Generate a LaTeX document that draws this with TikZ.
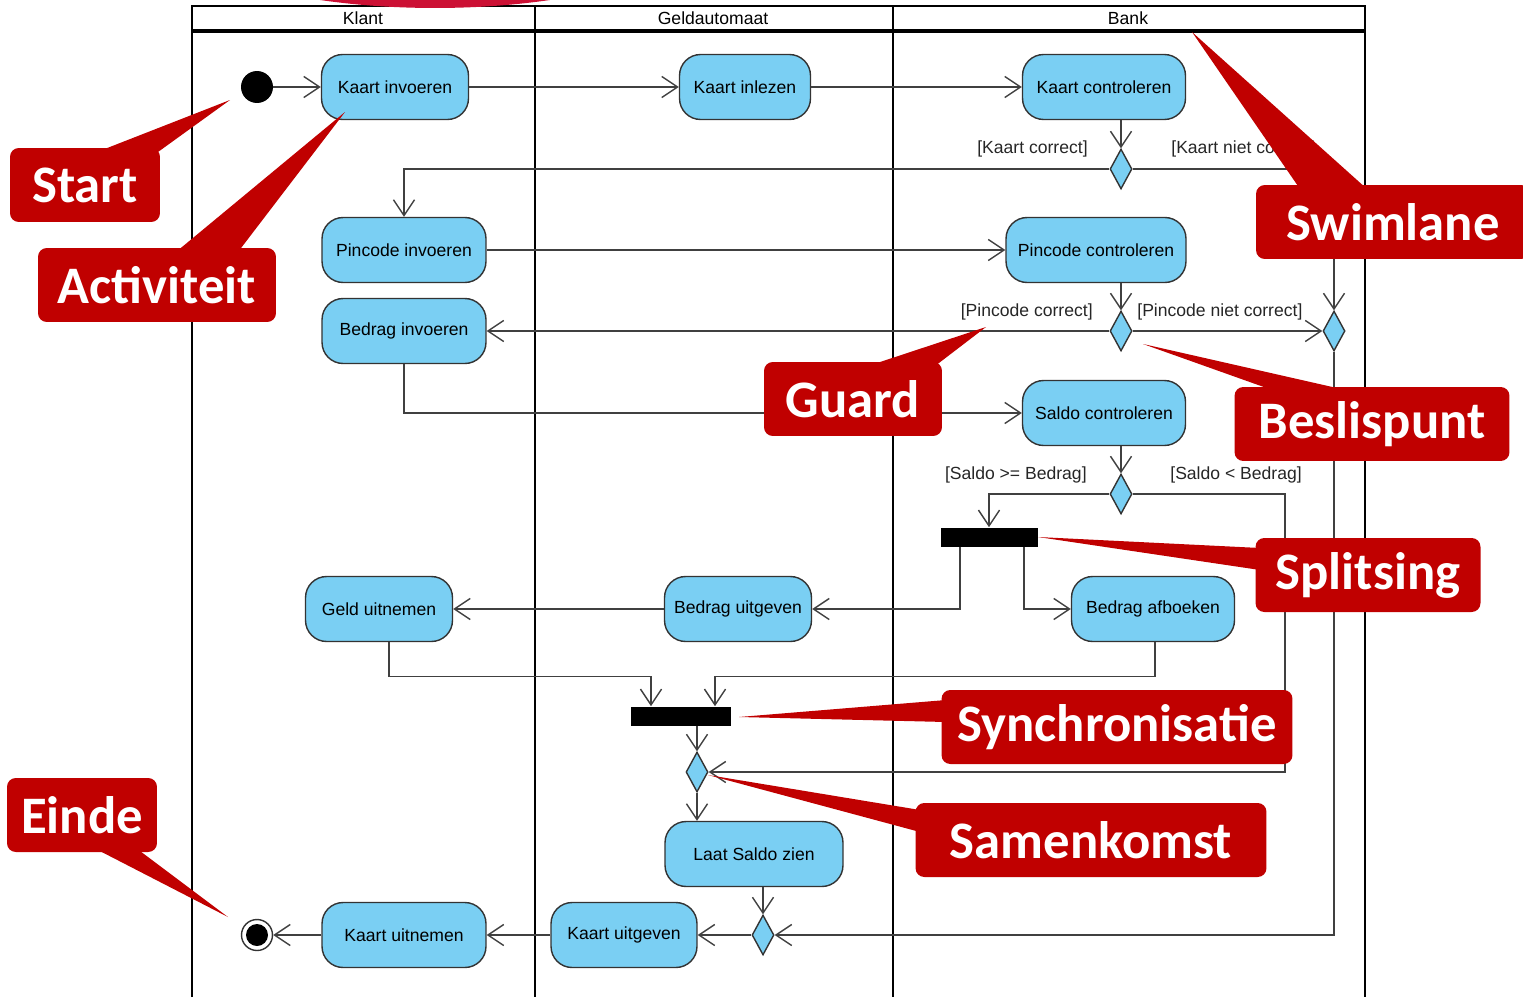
\documentclass[tikz,border=0pt]{standalone}
\usepackage{fontspec}
\setmainfont{Liberation Sans}
\newfontfamily\calloutfont{Carlito}
\usepackage[dvipsnames]{xcolor}
\usetikzlibrary{calc}
\usetikzlibrary{positioning}
\usetikzlibrary{shapes.geometric}
\usetikzlibrary{arrows.meta}
\definecolor{actblue}{RGB}{122,207,243}
\definecolor{calloutred}{RGB}{192,0,0}
\definecolor{topred}{RGB}{204,16,52}
\definecolor{lijn}{RGB}{64,64,64}

\begin{document}
\begin{tikzpicture}[x=0.02cm, y=-0.02cm, font=\fontsize{10}{12}\selectfont,
  activity/.style={draw=black!80, fill=actblue, line width=0.8pt, rounded corners=12pt, minimum width=#1, minimum height=1.3cm, inner sep=2pt},
  decision/.style={diamond, draw=black!80, fill=actblue, line width=0.8pt, minimum width=0.44cm, minimum height=0.8cm, inner sep=0pt},
  bar/.style={fill=black, minimum width=#1, minimum height=0.38cm, inner sep=0pt},
  initial/.style={circle, fill=black, minimum size=0.64cm, inner sep=0pt},
  final/.style={circle, draw=black!80, fill=white, line width=0.8pt, minimum size=0.62cm, inner sep=0pt, path picture={\fill[black] (path picture bounding box.center) circle (0.22cm);}},
  flow/.style={draw=lijn, line width=0.8pt, -{Straight Barb[length=9pt, width=12pt]}},
  lane/.style={draw=black, line width=1.3pt},
  guard/.style={inner sep=0pt, text=black!85},
  callout/.style={fill=calloutred, rounded corners=5pt, text=white, font=\calloutfont\bfseries\fontsize{30}{36}\selectfont, minimum width=#1, minimum height=1.48cm, inner sep=0pt}]
\useasboundingbox (0,0) rectangle (1523,997);

\draw[lane] (192,997) -- (192,6) -- (1365,6) -- (1365,997);
\draw[lane, line width=1.8pt] (192,31) -- (1365,31);
\draw[lane] (535,6) -- (535,997);
\draw[lane] (893,6) -- (893,997);
\node (hklant) at (363,18) {Klant};
\node (hgeld) at (713,18) {Geldautomaat};
\node (hbank) at (1128,18) {Bank};
\fill[topred] (435,-97) ellipse [x radius=6cm, y radius=2.1cm];

\node[initial] (start) at (257,87) {};
\node[activity=2.94cm] (kinv) at (395,87) {Kaart invoeren};
\node[activity=2.62cm] (kinl) at (745,87) {Kaart inlezen};
\node[activity=3.26cm] (kcon) at (1104,87) {Kaart controleren};
\node[decision] (dkaart) at (1121,169) {};
\node[activity=3.28cm] (pinv) at (404,250) {Pincode invoeren};
\node[activity=3.6cm] (pcon) at (1096,250) {Pincode controleren};
\node[decision] (dpin) at (1121,331) {};
\node[decision] (mfout) at (1334,331) {};
\node[activity=3.28cm] (binv) at (404,331) {Bedrag invoeren};
\node[activity=3.26cm] (scon) at (1104,413) {Saldo controleren};
\node[decision] (dsaldo) at (1121,494) {};
\node[bar=1.94cm] (split) at (989,537) {};
\node[activity=2.94cm] (buit) at (738,609) {Bedrag uitgeven};
\node[activity=3.26cm] (bafb) at (1153,609) {Bedrag afboeken};
\node[activity=2.94cm] (guit) at (379,609) {Geld uitnemen};
\node[bar=2cm] (sync) at (681,716) {};
\node[decision] (msaldo) at (697,772) {};
\node[activity=3.56cm] (lsz) at (754,854) {Laat Saldo zien};
\node[decision] (meind) at (763,935) {};
\node[activity=2.92cm] (kuitg) at (624,935) {Kaart uitgeven};
\node[activity=3.28cm] (kuitn) at (404,935) {Kaart uitnemen};
\node[final] (end) at (257,935) {};
\coordinate (hoek) at (1285,494);

\node[guard, anchor=east] (g1) at (1088,149) {[Kaart correct]};
\node[guard, anchor=west] (g2) at (1171,149) {[Kaart niet correct]};
\node[guard, anchor=east] (g3) at (1093,312) {[Pincode correct]};
\node[guard, anchor=west] (g4) at (1137,312) {[Pincode niet correct]};
\node[guard, anchor=east] (g5) at (1087,475) {[Saldo >= Bedrag]};
\node[guard, anchor=west] (g6) at (1170,475) {[Saldo < Bedrag]};

\draw[flow] (start) -- (kinv);
\draw[flow] (kinv) -- (kinl);
\draw[flow] (kinl) -- (kcon);
\draw[flow] (kcon.south -| dkaart) -- (dkaart.north);
\draw[flow] (dkaart.west) -| (pinv.north);
\draw[flow] (dkaart.east) -| (mfout.north);
\draw[flow] (pinv) -- (pcon);
\draw[flow] (pcon.south -| dpin) -- (dpin.north);
\draw[flow] (dpin.west) -- (binv.east);
\draw[flow] (dpin.east) -- (mfout.west);
\draw[flow] (mfout.south) |- (meind.east);
\draw[flow] (binv.south) |- (scon.west);
\draw[flow] (scon.south -| dsaldo) -- (dsaldo.north);
\draw[flow] (dsaldo.west) -| (split.north);
\draw[flow] (dsaldo.east) -- (hoek) |- (msaldo.east);
\draw[flow] ([xshift=-0.58cm]split.south) |- (buit.east);
\draw[flow] ([xshift=0.7cm]split.south) |- (bafb.west);
\draw[flow] (buit) -- (guit);
\draw[flow] ([xshift=0.2cm]guit.south) -- ++(0,34) -| ([xshift=-0.6cm]sync.north);
\draw[flow] ([xshift=0.04cm]bafb.south) -- ++(0,34) -| ([xshift=0.68cm]sync.north);
\draw[flow] (sync.south -| msaldo) -- (msaldo.north);
\draw[flow] (msaldo.south) -- (msaldo.south |- lsz.north);
\draw[flow] (lsz.south -| meind) -- (meind.north);
\draw[flow] (meind) -- (kuitg);
\draw[flow] (kuitg) -- (kuitn);
\draw[flow] (kuitn) -- (end);

\coordinate (tstart) at (230,100);
\coordinate (tact) at (345,112);
\coordinate (tguard) at (986,327);
\coordinate (tswim) at (1192,32);
\coordinate (tbes) at (1143,344);
\coordinate (tsplit) at (1038,537);
\coordinate (tsync) at (739,717);
\coordinate (teinde) at (228,917);
\coordinate (tsamen) at (708,775);
\fill[calloutred] (tstart) -- (97,152) -- (158,152) -- cycle;
\fill[calloutred] (tact) -- (176,252) -- (238,252) -- cycle;
\fill[calloutred] (tguard) -- (868,366) -- (935,366) -- cycle;
\fill[calloutred] (tswim) -- (1300,189) -- (1367,189) -- cycle;
\fill[calloutred] (tbes) -- (1275,391) -- (1350,391) -- cycle;
\fill[calloutred] (tsplit) -- (1260,548) -- (1260,570) -- cycle;
\fill[calloutred] (tsync) -- (946,700) -- (946,722) -- cycle;
\fill[calloutred] (teinde) -- (94,848) -- (136,848) -- cycle;
\fill[calloutred] (tsamen) -- (920,810) -- (920,832) -- cycle;
\node[callout=3cm] (cstart) at (85,185) {Start};
\node[callout=4.76cm] (cact) at (157,285) {Activiteit};
\node[callout=3.56cm] (cguard) at (853,399) {Guard};
\node[callout=5.48cm] (cswim) at (1393,222) {Swimlane};
\node[callout=5.5cm] (cbes) at (1372,424) {Beslispunt};
\node[callout=4.5cm] (csplit) at (1368,575) {Splitsing};
\node[callout=7.02cm] (csync) at (1117,727) {Synchronisatie};
\node[callout=3cm] (ceinde) at (82,815) {Einde};
\node[callout=7.02cm] (csamen) at (1091,840) {Samenkomst};
\end{tikzpicture}
\end{document}
